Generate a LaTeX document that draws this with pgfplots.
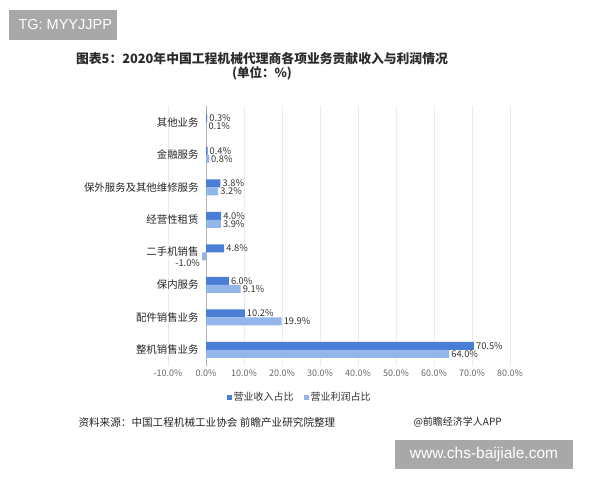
\documentclass[border=0pt]{standalone}
\usepackage{pgfplots}
\pgfplotsset{compat=1.18}
\usepackage{fontspec}
\setmainfont{Noto Sans CJK SC}
\newfontfamily\latinsans{Liberation Sans}
\definecolor{revc}{HTML}{4A7ED6}
\definecolor{proc}{HTML}{92B5EA}
\definecolor{boxgray}{HTML}{A8A8A8}
\definecolor{txt}{HTML}{2B2B2B}
\begin{document}
\begin{tikzpicture}
\fill[white] (0,0) rectangle (600pt,480pt);
\useasboundingbox (0,0) rectangle (600pt,480pt);
% watermark boxes
\fill[boxgray] (9pt,440pt) rectangle (117pt,470pt);
\node[anchor=west,text=white,font=\latinsans\fontsize{14.5}{16}\selectfont] at (15pt,455pt) {TG: MYYJJPP};
\fill[boxgray] (395pt,11pt) rectangle (573pt,40pt);
\node[text=white,font=\latinsans\fontsize{15.5}{17}\selectfont] at (484pt,25.5pt) {www.chs-baijiale.com};
% title
\node[font=\bfseries\fontsize{12.8}{14}\selectfont,text=txt] at (262pt,421pt) {图表5：2020年中国工程机械代理商各项业务贡献收入与利润情况};
\node[font=\bfseries\fontsize{12.5}{14}\selectfont,text=txt] at (262pt,407pt) {(单位：\%)};
% source
\node[anchor=west,font=\fontsize{10.6}{12}\selectfont,text=black!85] at (75pt,58pt) {资料来源：中国工程机械工业协会 前瞻产业研究院整理};
\node[anchor=west,font=\fontsize{10}{12}\selectfont,text=black!85] at (410pt,58pt) {@前瞻经济学人APP};
\begin{axis}[
  at={(168pt,114pt)}, anchor=south west,
  scale only axis, width=342pt, height=260pt,
  xmin=-10, xmax=80, ymin=-0.5, ymax=7.5,
  xbar, bar width=8pt,
  /pgf/number format/assume math mode=true,
  xtick={-10,0,10,20,30,40,50,60,70,80},
  xticklabels={-10.0\%,0.0\%,10.0\%,20.0\%,30.0\%,40.0\%,50.0\%,60.0\%,70.0\%,80.0\%},
  ytick={0,1,2,3,4,5,6,7},
  yticklabels={整机销售业务,配件销售业务,保内服务,\raisebox{3pt}{二手机销售},经营性租赁,保外服务及其他维修服务,金融服务,其他业务},
  axis line style={draw=none},
  major tick length=0pt,
  xmajorgrids, grid style={draw=black!8},
  xticklabel style={font=\fontsize{9}{10}\selectfont,text=black!60},
  yticklabel style={font=\fontsize{10.4}{12}\selectfont,text=black!85,xshift=34pt},
  nodes near coords={\pgfmathprintnumber[fixed,fixed zerofill,precision=1]{\pgfplotspointmeta}\%},
  nodes near coords style={font=\fontsize{9.3}{10}\selectfont,text=black!80,inner sep=2pt},
  legend style={at={(0.385,-0.085)}, anchor=north, legend columns=2, draw=none, fill=none,
    font=\fontsize{10}{12}\selectfont, text=black!80,
    /tikz/every even column/.append style={column sep=8pt}},
  legend image code/.code={\fill[#1] (0pt,-2.5pt) rectangle (5pt,2.5pt);},
  clip=false,
]
\draw[black!30] (axis cs:0,-0.5) -- (axis cs:0,7.5);
\addplot[fill=revc, draw=none, bar shift=4pt] coordinates {
(70.5,0) (10.2,1) (6.0,2) (4.8,3) (4.0,4) (3.8,5) (0.4,6) (0.3,7)};
\addlegendentry{营业收入占比}
\addplot[fill=proc, draw=none, bar shift=-4pt,
  coordinate style/.condition={\coordindex==3}{anchor=north east,yshift=-1pt}] coordinates {
(64.0,0) (19.9,1) (9.1,2) (-1.0,3) (3.9,4) (3.2,5) (0.8,6) (0.1,7)};
\addlegendentry{营业利润占比}
\end{axis}
\end{tikzpicture}
\end{document}
